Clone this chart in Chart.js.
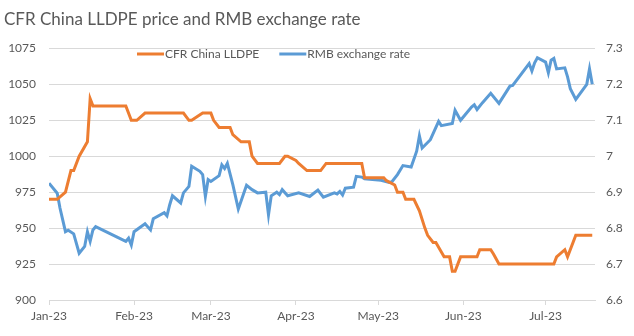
<!DOCTYPE html>
<html>
<head>
<meta charset="utf-8">
<script src="https://cdn.jsdelivr.net/npm/chart.js@4"></script>
<style>
  body { margin: 0; background: #fff; }
  canvas { display: block; }
</style>
</head>
<body>
<canvas id="chart" width="634" height="336"></canvas>
<script>
// CFR China LLDPE (USD/t), left axis
const lldpeDates = ['2023-01-01','2023-01-04','2023-01-07','2023-01-09','2023-01-10','2023-01-12','2023-01-15','2023-01-16','2023-01-17','2023-01-29',
  '2023-01-31','2023-02-02','2023-02-05','2023-02-19','2023-02-21','2023-02-22','2023-02-26','2023-03-01','2023-03-02','2023-03-04',
  '2023-03-08','2023-03-09','2023-03-12','2023-03-15','2023-03-16','2023-03-18','2023-03-26','2023-03-28','2023-03-29','2023-04-01',
  '2023-04-02','2023-04-05','2023-04-10','2023-04-12','2023-04-25','2023-04-26','2023-05-03','2023-05-04','2023-05-07','2023-05-08',
  '2023-05-10','2023-05-11','2023-05-14','2023-05-16','2023-05-18','2023-05-19','2023-05-21','2023-05-22','2023-05-25','2023-05-27',
  '2023-05-28','2023-05-29','2023-05-31','2023-06-06','2023-06-07','2023-06-11','2023-06-12','2023-06-14','2023-07-04','2023-07-05',
  '2023-07-08','2023-07-09','2023-07-12','2023-07-18'];
const lldpeValues = [970, 970, 975, 990, 990, 1000, 1010, 1040, 1035, 1035,
  1025, 1025, 1030, 1030, 1025, 1025, 1030, 1030, 1025, 1020,
  1020, 1015, 1010, 1010, 1000, 995, 995, 1000, 1000, 997,
  995, 990, 990, 995, 995, 985, 985, 983, 980, 975,
  975, 970, 970, 962, 950, 945, 940, 940, 930, 930,
  920, 920, 930, 930, 935, 935, 932, 925, 925, 930,
  935, 930, 945, 945];

// RMB exchange rate (CNY per USD), right axis
const rmbDates = ['2023-01-01','2023-01-04','2023-01-05','2023-01-07','2023-01-08','2023-01-10','2023-01-12','2023-01-14','2023-01-15','2023-01-16',
  '2023-01-17','2023-01-18','2023-01-29','2023-01-30','2023-01-31','2023-02-01','2023-02-05','2023-02-07','2023-02-08','2023-02-12',
  '2023-02-13','2023-02-14','2023-02-15','2023-02-18','2023-02-19','2023-02-21','2023-02-22','2023-02-25','2023-02-26','2023-02-27',
  '2023-02-28','2023-03-01','2023-03-04','2023-03-05','2023-03-06','2023-03-07','2023-03-09','2023-03-11','2023-03-14','2023-03-16',
  '2023-03-18','2023-03-21','2023-03-22','2023-03-23','2023-03-25','2023-03-26','2023-03-27','2023-03-29','2023-04-02','2023-04-06',
  '2023-04-09','2023-04-11','2023-04-15','2023-04-16','2023-04-17','2023-04-18','2023-04-19','2023-04-22','2023-04-23','2023-04-25',
  '2023-04-26','2023-05-02','2023-05-05','2023-05-06','2023-05-08','2023-05-10','2023-05-13','2023-05-15','2023-05-16','2023-05-17',
  '2023-05-20','2023-05-23','2023-05-24','2023-05-28','2023-05-29','2023-05-31','2023-06-04','2023-06-05','2023-06-06','2023-06-08',
  '2023-06-11','2023-06-14','2023-06-18','2023-06-19','2023-06-25','2023-06-26','2023-06-27','2023-06-28','2023-07-01','2023-07-02',
  '2023-07-03','2023-07-04','2023-07-05','2023-07-08','2023-07-09','2023-07-10','2023-07-12','2023-07-16','2023-07-17','2023-07-18'];
const rmbValues = [6.925, 6.897, 6.856, 6.79, 6.794, 6.784, 6.73, 6.749, 6.79, 6.763,
  6.795, 6.804, 6.763, 6.772, 6.753, 6.79, 6.812, 6.795, 6.826, 6.843,
  6.834, 6.865, 6.89, 6.87, 6.898, 6.916, 6.972, 6.958, 6.949, 6.888,
  6.935, 6.93, 6.946, 6.976, 6.966, 6.98, 6.921, 6.853, 6.919, 6.907,
  6.898, 6.9, 6.837, 6.89, 6.9, 6.893, 6.907, 6.89, 6.898, 6.888,
  6.906, 6.886, 6.898, 6.895, 6.902, 6.892, 6.911, 6.914, 6.944, 6.942,
  6.937, 6.933, 6.927, 6.929, 6.949, 6.974, 6.97, 7.014, 7.057, 7.023,
  7.046, 7.097, 7.085, 7.091, 7.128, 7.1, 7.137, 7.143, 7.13, 7.149,
  7.175, 7.147, 7.195, 7.197, 7.258, 7.237, 7.26, 7.274, 7.262, 7.232,
  7.267, 7.272, 7.243, 7.246, 7.221, 7.188, 7.158, 7.2, 7.243, 7.2];

// x-axis month ticks
const tickDates = ['2023-01-01','2023-02-01','2023-03-01','2023-04-01','2023-05-01','2023-06-01','2023-07-01'];
const tickLabels = ['Jan-23','Feb-23','Mar-23','Apr-23','May-23','Jun-23','Jul-23'];
const axisEnd = '2023-07-19';

const FONT = 'Lato, "Open Sans", sans-serif';
const TEXT = '#595959';
const GRID = '#d9d9d9';

// days since 1 Jan 2023
function dayOf(s) {
    const [y, m, d] = s.split('-').map(Number);
    return (Date.UTC(y, m - 1, d) - Date.UTC(2023, 0, 1)) / 86400000;
}

function toPoints(dates, values) {
    return dates.map((d, i) => ({x: dayOf(d), y: values[i]}));
}

const tickDays = tickDates.map(dayOf);

// Excel style legend sitting inside the plot area
const lineLegend = {
    id: 'lineLegend',
    afterDraw(chart, args, opts) {
        const ctx = chart.ctx;
        ctx.save();
        ctx.font = '12px ' + FONT;
        ctx.textBaseline = 'middle';
        let x = opts.x;
        chart.data.datasets.forEach(ds => {
            ctx.strokeStyle = ds.borderColor;
            ctx.lineWidth = 3;
            ctx.beginPath();
            ctx.moveTo(x, opts.y);
            ctx.lineTo(x + opts.sample, opts.y);
            ctx.stroke();
            x += opts.sample + 1;
            ctx.fillStyle = TEXT;
            ctx.fillText(ds.label, x, opts.y);
            x += ctx.measureText(ds.label).width + opts.gap;
        });
        ctx.restore();
    }
};

new Chart(document.getElementById('chart').getContext('2d'), {
    type: 'line',
    data: {
        datasets: [{
            label: 'CFR China LLDPE',
            data: toPoints(lldpeDates, lldpeValues),
            borderColor: '#ED7D31',
            backgroundColor: '#ED7D31',
            borderWidth: 3,
            pointRadius: 0,
            tension: 0,
            yAxisID: 'y'
        }, {
            label: 'RMB exchange rate',
            data: toPoints(rmbDates, rmbValues),
            borderColor: '#5B9BD5',
            backgroundColor: '#5B9BD5',
            borderWidth: 3,
            pointRadius: 0,
            tension: 0,
            yAxisID: 'y1'
        }]
    },
    options: {
        responsive: false,
        animation: false,
        layout: { padding: { left: 4 } },
        plugins: {
            legend: { display: false },
            tooltip: { enabled: false },
            title: {
                display: true,
                text: 'CFR China LLDPE price and RMB exchange rate',
                align: 'start',
                color: TEXT,
                font: { family: FONT, size: 17, weight: 'normal' },
                padding: { top: 9, bottom: 19 }
            },
            lineLegend: { x: 137, y: 54, sample: 27, gap: 20 }
        },
        scales: {
            x: {
                type: 'linear',
                min: 0,
                max: dayOf(axisEnd),
                afterBuildTicks: scale => {
                    scale.ticks = tickDays.map(v => ({value: v}));
                },
                afterFit: scale => { scale.height = 36; },
                grid: { drawOnChartArea: false, color: GRID, tickLength: 5 },
                border: { color: GRID },
                ticks: {
                    autoSkip: false,
                    maxRotation: 0,
                    padding: 4,
                    color: TEXT,
                    font: { family: FONT, size: 12 },
                    callback: v => tickLabels[tickDays.indexOf(v)]
                }
            },
            y: {
                position: 'left',
                min: 900,
                max: 1075,
                afterFit: scale => { scale.width = 45; },
                grid: { color: GRID, drawTicks: false },
                border: { display: false },
                ticks: {
                    stepSize: 25,
                    padding: 13,
                    color: TEXT,
                    font: { family: FONT, size: 12 },
                    callback: v => String(v)
                }
            },
            y1: {
                position: 'right',
                min: 6.6,
                max: 7.3,
                afterFit: scale => { scale.width = 39; },
                grid: { drawOnChartArea: false, drawTicks: false },
                border: { display: false },
                ticks: {
                    stepSize: 0.1,
                    padding: 11,
                    color: TEXT,
                    font: { family: FONT, size: 12 },
                    callback: v => String(Math.round(v * 10) / 10)
                }
            }
        }
    },
    plugins: [lineLegend]
});
</script>
</body>
</html>
